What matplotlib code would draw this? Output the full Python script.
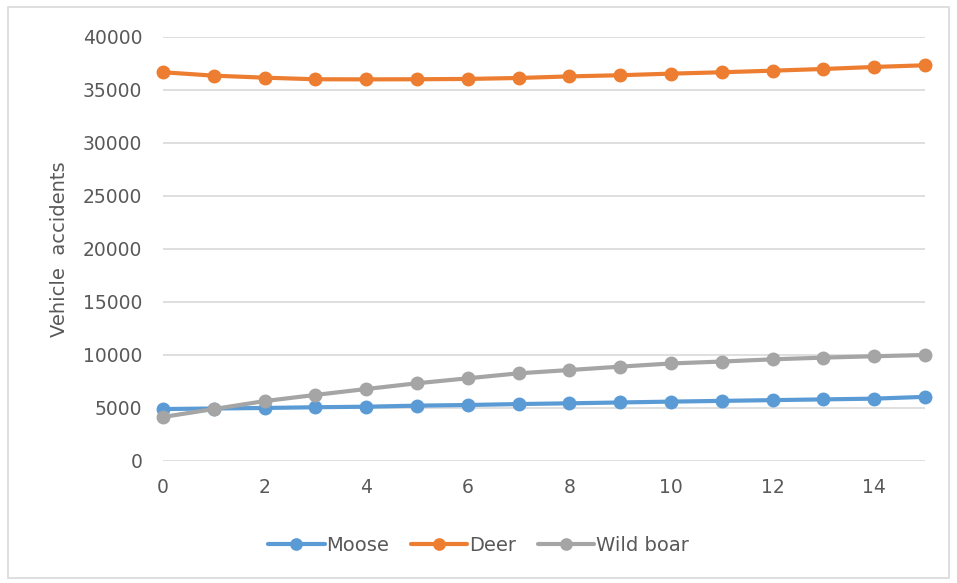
import matplotlib.pyplot as plt
from matplotlib.patches import Rectangle

# data
years = list(range(16))
moose = [4900, 4950, 5000, 5070, 5120, 5220, 5280, 5370, 5440, 5520, 5600, 5670, 5740, 5810, 5880, 6050]
deer = [36670, 36350, 36160, 36010, 36000, 36010, 36040, 36130, 36280, 36390, 36540, 36670, 36820, 36980, 37170, 37330]
wild_boar = [4150, 4900, 5650, 6230, 6790, 7330, 7800, 8270, 8580, 8900, 9200, 9380, 9590, 9750, 9880, 10000]

series = [("Moose", moose, "#5B9BD5"),
          ("Deer", deer, "#ED7D31"),
          ("Wild boar", wild_boar, "#A5A5A5")]

txt = "#595959"

fig = plt.figure(figsize=(9.57, 5.83), dpi=100)
ax = fig.add_axes([0.1703, 0.2093, 0.7963, 0.7273])

for name, vals, col in series:
    ax.plot(years, vals, color=col, lw=3.0, marker="o", ms=9, label=name,
            solid_capstyle="round", zorder=3, clip_on=False)

ax.set_xlim(0, 15)
ax.set_ylim(0, 40000)
ax.set_xticks(range(0, 16, 2))
ax.set_yticks(range(0, 40001, 5000))
ax.grid(axis="y", color="#D9D9D9", lw=1.2)
ax.set_axisbelow(True)
for s in ax.spines.values():
    s.set_visible(False)
ax.tick_params(axis="y", length=0, labelsize=13.5, labelcolor=txt, pad=15)
ax.tick_params(axis="x", length=0, labelsize=13.5, labelcolor=txt, pad=12)
ax.set_ylabel("Vehicle  accidents", fontsize=14, color=txt, labelpad=10)

fig.legend(loc="center", bbox_to_anchor=(0.5, 0.065), ncol=3, frameon=False,
           fontsize=14, labelcolor=txt, handlelength=2.9, handletextpad=0.1,
           columnspacing=1.1, markerscale=0.9)

# light outline around the chart area
fig.patches.append(Rectangle((0.008, 0.008), 0.984, 0.98, transform=fig.transFigure,
                             fill=False, edgecolor="#D9D9D9", lw=1.2))

fig.savefig("out.png", dpi=100)
